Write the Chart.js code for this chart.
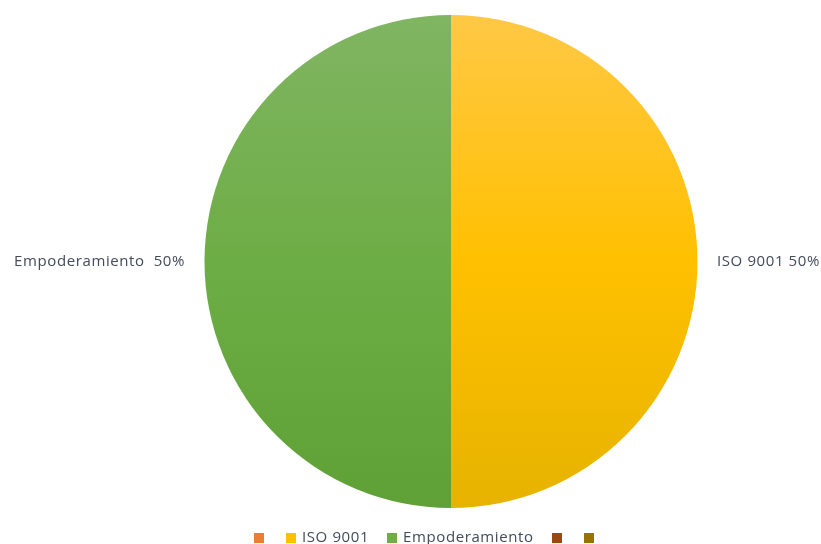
<!DOCTYPE html>
<html>
<head>
<meta charset="utf-8">
<script src="https://cdn.jsdelivr.net/npm/chart.js@4"></script>
<style>
  html, body { margin: 0; padding: 0; background: #ffffff; overflow: hidden; }
  canvas { display: block; }
</style>
</head>
<body>
<canvas id="pie" width="821" height="544"></canvas>
<script>
// Categories and values of the pie (empty entries keep their legend swatches)
const categories = ['', 'ISO 9001', 'Empoderamiento ', '', ''];
const values = [0, 50, 50, 0, 0];

// Flat swatch colours and the top / middle / bottom shades of each slice
const swatchColors = ['#ED7D31', '#FFC000', '#70AD47', '#9E480E', '#997300'];
const shadeStops = [
  ['#F08A45', '#ED7D31', '#D66E28'],
  ['#FFC845', '#FFC000', '#E6B300'],
  ['#80B562', '#6DAD45', '#5FA136'],
  ['#A8551A', '#9E480E', '#8A3E0B'],
  ['#A37E12', '#997300', '#866500']
];

const textColor = '#414B59';
const textFont = '15px "Open Sans", "Liberation Sans", sans-serif';

function sliceFill(ctx) {
  const chart = ctx.chart;
  const area = chart.chartArea;
  if (!area) return swatchColors[ctx.dataIndex];
  const g = chart.ctx.createLinearGradient(0, area.top, 0, area.bottom);
  const s = shadeStops[ctx.dataIndex];
  g.addColorStop(0, s[0]);
  g.addColorStop(0.5, s[1]);
  g.addColorStop(1, s[2]);
  return g;
}

// Category name + percentage beside each non-empty slice
const outsideLabels = {
  id: 'outsideLabels',
  afterDatasetsDraw(chart) {
    const ctx = chart.ctx;
    const meta = chart.getDatasetMeta(0);
    const data = chart.data.datasets[0].data;
    const total = data.reduce((a, b) => a + b, 0);
    ctx.save();
    ctx.font = textFont;
    ctx.fillStyle = textColor;
    ctx.textBaseline = 'middle';
    if ('letterSpacing' in ctx) ctx.letterSpacing = '0.6px';
    meta.data.forEach((arc, i) => {
      if (!data[i]) return;
      const p = arc.getProps(['x', 'y', 'startAngle', 'endAngle', 'outerRadius'], true);
      const mid = (p.startAngle + p.endAngle) / 2;
      const r = p.outerRadius + 19.5;
      const x = p.x + Math.cos(mid) * r;
      const y = p.y + Math.sin(mid) * r;
      const pct = Math.round(data[i] / total * 100) + '%';
      ctx.textAlign = Math.cos(mid) >= 0 ? 'left' : 'right';
      ctx.fillText(chart.data.labels[i] + ' ' + pct, x, y);
    });
    ctx.restore();
  }
};

// Legend row along the bottom edge
const bottomLegend = {
  id: 'bottomLegend',
  afterDraw(chart) {
    const ctx = chart.ctx;
    const box = 10, gapText = 6, gapAfterText = 18, emptyStep = 32;
    const startX = 254, centerY = 538;
    ctx.save();
    ctx.font = textFont;
    if ('letterSpacing' in ctx) ctx.letterSpacing = '0.6px';
    ctx.textBaseline = 'middle';
    ctx.textAlign = 'left';
    let x = startX;
    chart.data.labels.map(l => l.trim()).forEach((l, i) => {
      ctx.fillStyle = swatchColors[i];
      ctx.fillRect(Math.round(x), centerY - box / 2, box, box);
      if (l) {
        ctx.fillStyle = textColor;
        ctx.fillText(l, x + box + gapText, centerY);
        x += box + gapText + ctx.measureText(l).width + gapAfterText;
      } else {
        x += emptyStep;
      }
    });
    ctx.restore();
  }
};

new Chart(document.getElementById('pie'), {
  type: 'pie',
  data: {
    labels: categories,
    datasets: [{
      data: values,
      backgroundColor: sliceFill,
      borderWidth: 0,
      hoverOffset: 0
    }]
  },
  options: {
    responsive: false,
    devicePixelRatio: 1,
    animation: false,
    layout: { padding: { left: 204.5, right: 123.5, top: 15, bottom: 36 } },
    plugins: {
      legend: { display: false },
      tooltip: { enabled: false }
    }
  },
  plugins: [outsideLabels, bottomLegend]
});
</script>
</body>
</html>
